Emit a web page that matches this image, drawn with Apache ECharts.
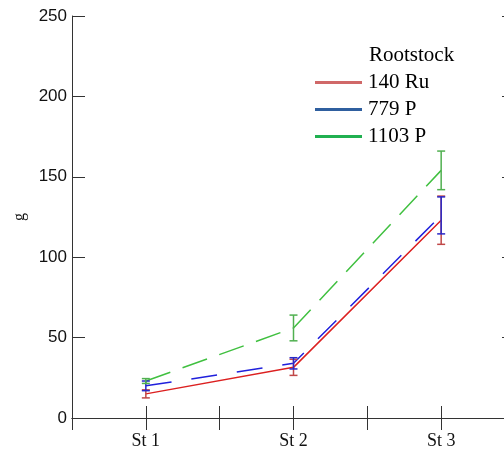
<!DOCTYPE html>
<html>
<head>
<meta charset="utf-8">
<script src="https://cdn.jsdelivr.net/npm/echarts@6/dist/echarts.min.js"></script>
<style>html,body{margin:0;padding:0;background:#fff;overflow:hidden;}#chart{width:504px;height:450px;}</style>
</head>
<body>
<div id="chart"></div>
<script>
var categories = ['St 1', 'St 2', 'St 3'];
var yTicks = [0, 50, 100, 150, 200, 250];
var seriesNames = ['140 Ru', '779 P', '1103 P'];
var ru140 = [15, 31.5, 123];
var ru140Err = [2.5, 5, 15];
var p779 = [20, 34, 126];
var p779Err = [3, 3.5, 11.5];
var p1103 = [23, 56, 154];
var p1103Err = [1.5, 8, 12];

var lineColors = ['#dc2020', '#2020dc', '#40c040'];
var errColors = ['#c04848', '#2828c8', '#50b050'];
var legendColors = ['#d06868', '#2f5f9f', '#20b050'];
var dashes = ['solid', [26, 20], [26, 13]];

function pts(vals) { return vals.map(function (v, i) { return [i + 1, v]; }); }
function errPts(vals, errs) { return vals.map(function (v, i) { return [i + 1, v - errs[i], v + errs[i]]; }); }

var allVals = [ru140, p779, p1103];
var allErrs = [ru140Err, p779Err, p1103Err];

function errRender(color) {
  return function (params, api) {
    var x = api.value(0), lo = api.value(1), hi = api.value(2);
    var pLo = api.coord([x, lo]), pHi = api.coord([x, hi]);
    var w = 4;
    var st = { stroke: color, lineWidth: 1.5 };
    return {
      type: 'group',
      children: [
        { type: 'line', shape: { x1: pLo[0], y1: pLo[1], x2: pHi[0], y2: pHi[1] }, style: st },
        { type: 'line', shape: { x1: pLo[0] - w, y1: pLo[1], x2: pLo[0] + w, y2: pLo[1] }, style: st },
        { type: 'line', shape: { x1: pHi[0] - w, y1: pHi[1], x2: pHi[0] + w, y2: pHi[1] }, style: st }
      ]
    };
  };
}

var series = [];
for (var i = 0; i < 3; i++) {
  series.push({
    name: seriesNames[i], type: 'line', data: pts(allVals[i]),
    showSymbol: false, symbol: 'none',
    lineStyle: { color: lineColors[i], width: 1.5, type: dashes[i] },
    itemStyle: { color: lineColors[i] },
    z: 3
  });
}
for (var j = 0; j < 3; j++) {
  series.push({
    name: seriesNames[j] + ' err', type: 'custom', data: errPts(allVals[j], allErrs[j]),
    renderItem: errRender(errColors[j]), encode: { x: 0, y: [1, 2] }, z: 4, silent: true
  });
}

var axisLine = { show: true, lineStyle: { color: '#333', width: 1 } };
var chart = echarts.init(document.getElementById('chart'));
chart.setOption({
  animation: false,
  grid: { left: 72, top: 16, width: 443, height: 402, outerBoundsMode: 'none' },
  title: {
    text: 'Rootstock', left: 364, top: 40,
    textStyle: { fontFamily: 'Liberation Serif', fontSize: 21, fontWeight: 'normal', color: '#000' }
  },
  legend: {
    orient: 'vertical', left: 310, top: 67,
    itemWidth: 47, itemHeight: 3, itemGap: 6, icon: 'rect',
    textStyle: { fontFamily: 'Liberation Serif', fontSize: 21, color: '#000', padding: [0, 0, 0, 1] },
    data: seriesNames.map(function (n, k) { return { name: n, itemStyle: { color: legendColors[k] } }; })
  },
  xAxis: [{
    type: 'value', min: 0.5, max: 3.5, interval: 0.5, position: 'bottom',
    axisLine: axisLine, splitLine: { show: false },
    axisTick: { show: true, inside: true, length: 12, lineStyle: { color: '#333' } },
    axisLabel: {
      margin: 14, fontFamily: 'Liberation Serif', fontSize: 18, color: '#111',
      formatter: function (v) { return (Math.abs(v - Math.round(v)) < 1e-6 && v >= 1 && v <= 3) ? categories[Math.round(v) - 1] : ' '; }
    }
  }, {
    type: 'value', min: 0.5, max: 3.5, interval: 0.5, position: 'top',
    axisLine: axisLine, splitLine: { show: false },
    axisTick: { show: true, inside: true, length: 12, lineStyle: { color: '#333' } },
    axisLabel: { show: false }
  }],
  yAxis: [{
    type: 'value', min: yTicks[0], max: yTicks[yTicks.length - 1], interval: 50, position: 'left',
    name: 'g', nameLocation: 'middle', nameGap: 44, nameRotate: 90,
    nameTextStyle: { fontFamily: 'Liberation Serif', fontSize: 16, color: '#111' },
    axisLine: axisLine, splitLine: { show: false },
    axisTick: { show: true, inside: true, length: 13, lineStyle: { color: '#333' } },
    axisLabel: { margin: 5, fontFamily: 'Liberation Sans', fontSize: 17, color: '#111' }
  }, {
    type: 'value', min: yTicks[0], max: yTicks[yTicks.length - 1], interval: 50, position: 'right',
    axisLine: axisLine, splitLine: { show: false },
    axisTick: { show: true, inside: true, length: 13, lineStyle: { color: '#333' } },
    axisLabel: { show: false }
  }],
  series: series
});
</script>
</body>
</html>
